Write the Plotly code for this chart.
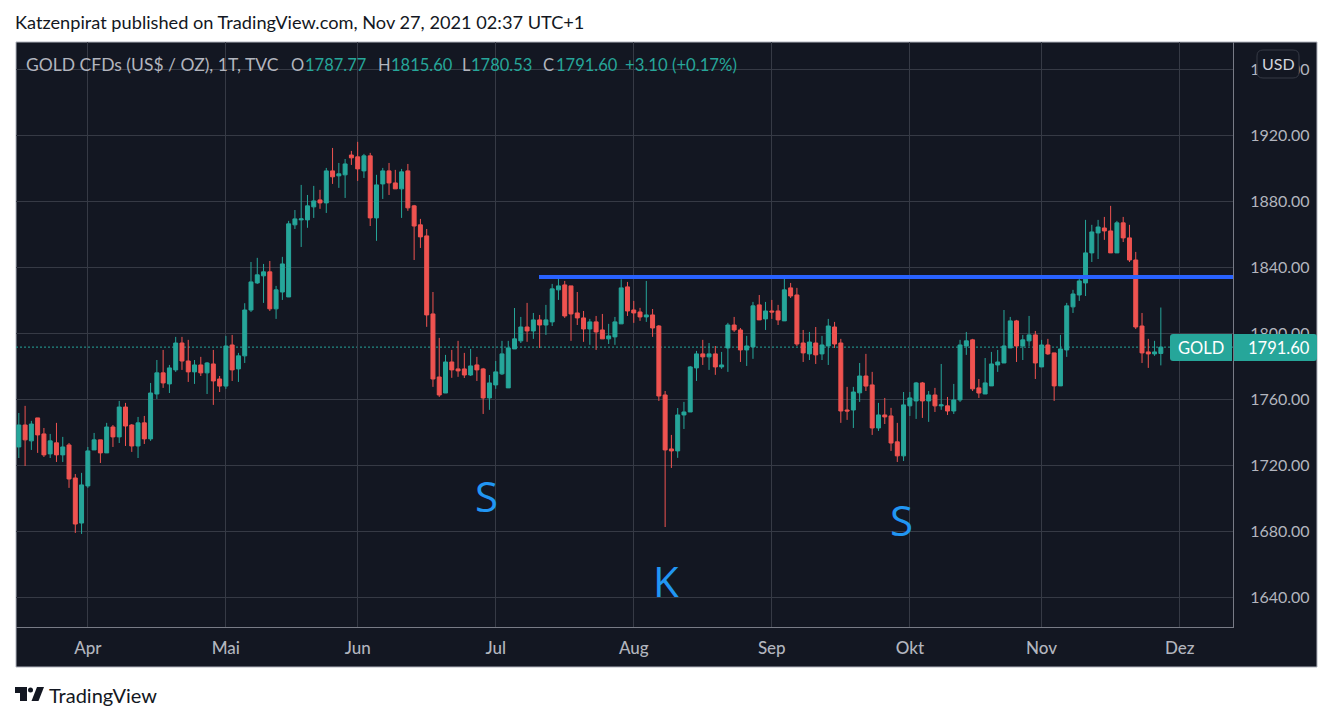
#!/usr/bin/env python3
# -*- coding: utf-8 -*-

import plotly.graph_objects as go

# daily candles, first one is index 0
opens = [
    1731.1, 1744.4, 1734.8, 1748.7, 1739.0, 1726.9, 1733.6, 1726.3, 1732.3, 1712.3,
    1685.0, 1707.5, 1729.3, 1735.4, 1727.5, 1743.2, 1737.2, 1755.3, 1744.4, 1731.7,
    1745.7, 1736.0, 1763.2, 1776.0, 1769.3, 1777.8, 1794.1, 1783.2, 1776.6, 1780.8,
    1776.0, 1781.4, 1772.3, 1768.0, 1792.9, 1778.4, 1786.3, 1814.1, 1830.5, 1834.8,
    1837.2, 1814.8, 1825.0, 1822.0, 1865.7, 1868.7, 1868.7, 1876.6, 1880.8, 1879.0,
    1898.4, 1895.4, 1896.0, 1908.0, 1906.9, 1898.4, 1907.5, 1869.9, 1890.5, 1898.4,
    1891.1, 1887.5, 1898.4, 1877.2, 1865.7, 1859.0, 1811.7, 1773.5, 1763.8, 1782.6,
    1778.4, 1778.4, 1774.7, 1780.8, 1778.4, 1760.8, 1768.7, 1775.4, 1766.9, 1790.5,
    1795.4, 1803.8, 1801.4, 1808.1, 1805.0, 1806.9, 1826.3, 1829.3, 1828.7, 1812.3,
    1809.3, 1802.6, 1806.9, 1802.0, 1796.6, 1797.8, 1805.7, 1828.1, 1814.1, 1812.9,
    1809.9, 1811.1, 1804.4, 1762.6, 1729.9, 1728.7, 1750.5, 1752.3, 1779.0, 1787.5,
    1785.7, 1787.5, 1779.6, 1791.1, 1805.0, 1802.0, 1789.9, 1791.7, 1817.2, 1808.7,
    1813.5, 1813.5, 1807.5, 1827.5, 1823.2, 1794.1, 1787.5, 1794.1, 1787.5, 1792.3,
    1803.8, 1794.1, 1753.5, 1753.5, 1763.9, 1774.1, 1768.7, 1742.6, 1750.5, 1749.9,
    1734.2, 1725.7, 1756.0, 1759.0, 1769.9, 1759.0, 1762.6, 1756.0, 1756.0, 1752.9,
    1759.6, 1792.3, 1796.0, 1766.9, 1763.2, 1768.1, 1780.8, 1782.0, 1791.1, 1807.5,
    1792.3, 1795.4, 1799.0, 1779.6, 1792.9, 1788.1, 1768.1, 1789.9, 1816.0, 1823.2,
    1830.5, 1848.7, 1860.8, 1863.8, 1862.0, 1848.7, 1866.9, 1857.8, 1844.4, 1804.4,
    1788.7, 1787.5, 1787.77,
]
highs = [
    1751.7, 1756.0, 1746.9, 1748.7, 1742.6, 1739.0, 1745.7, 1737.2, 1733.5, 1714.7,
    1715.4, 1731.1, 1739.6, 1735.4, 1745.7, 1744.4, 1759.0, 1757.8, 1745.0, 1749.3,
    1749.9, 1769.9, 1783.8, 1789.9, 1780.8, 1797.8, 1797.8, 1796.0, 1783.8, 1785.7,
    1782.6, 1789.9, 1774.1, 1798.4, 1799.0, 1788.1, 1818.2, 1843.2, 1845.7, 1842.0,
    1843.8, 1828.7, 1846.3, 1868.1, 1874.7, 1889.9, 1883.8, 1889.3, 1886.9, 1900.2,
    1912.3, 1903.2, 1905.6, 1910.5, 1916.0, 1908.7, 1909.3, 1896.0, 1900.2, 1903.2,
    1899.0, 1899.6, 1902.6, 1877.8, 1869.3, 1863.2, 1825.0, 1797.2, 1786.9, 1789.9,
    1795.4, 1788.1, 1790.5, 1785.7, 1779.0, 1774.7, 1783.2, 1795.4, 1795.4, 1815.3,
    1809.9, 1818.4, 1812.3, 1811.1, 1817.2, 1829.9, 1834.1, 1831.7, 1828.7, 1825.0,
    1813.5, 1808.7, 1810.5, 1811.7, 1805.7, 1809.9, 1832.7, 1831.1, 1819.6, 1815.4,
    1831.7, 1814.7, 1805.0, 1765.0, 1738.4, 1754.7, 1758.4, 1780.2, 1789.3, 1796.0,
    1794.1, 1792.3, 1788.7, 1806.3, 1809.9, 1803.2, 1798.4, 1819.0, 1823.2, 1819.0,
    1820.2, 1817.2, 1834.1, 1830.5, 1827.5, 1802.0, 1800.8, 1803.8, 1798.4, 1808.7,
    1806.9, 1796.6, 1767.5, 1767.5, 1782.0, 1787.5, 1776.6, 1757.8, 1760.8, 1754.8,
    1745.7, 1764.4, 1764.4, 1770.5, 1770.5, 1765.0, 1766.9, 1781.4, 1761.4, 1769.3,
    1796.0, 1800.8, 1796.6, 1772.3, 1785.0, 1788.7, 1789.9, 1814.1, 1809.9, 1808.1,
    1799.0, 1810.5, 1801.4, 1796.0, 1796.6, 1788.1, 1799.0, 1818.4, 1826.3, 1832.9,
    1868.7, 1865.7, 1868.7, 1870.5, 1877.2, 1868.1, 1870.5, 1865.7, 1849.3, 1812.3,
    1796.6, 1795.4, 1815.6,
]
lows = [
    1724.4, 1719.6, 1729.3, 1727.5, 1725.0, 1724.4, 1722.0, 1722.0, 1706.3, 1679.0,
    1678.4, 1706.3, 1729.3, 1721.4, 1727.5, 1731.1, 1733.5, 1731.7, 1728.1, 1724.4,
    1732.9, 1734.8, 1760.2, 1766.9, 1763.8, 1776.6, 1777.8, 1770.5, 1769.3, 1774.1,
    1763.2, 1756.6, 1764.4, 1766.3, 1771.1, 1770.5, 1782.0, 1812.9, 1829.9, 1818.4,
    1813.5, 1808.7, 1820.2, 1822.0, 1863.2, 1852.3, 1863.9, 1869.9, 1875.4, 1872.9,
    1890.5, 1888.1, 1882.0, 1902.0, 1892.3, 1894.1, 1865.0, 1856.0, 1881.4, 1883.8,
    1887.5, 1869.9, 1874.2, 1844.4, 1851.7, 1803.9, 1767.5, 1761.4, 1763.8, 1773.0,
    1773.6, 1772.9, 1774.1, 1771.1, 1751.1, 1753.6, 1766.3, 1774.7, 1766.9, 1790.5,
    1794.1, 1794.8, 1796.6, 1791.1, 1799.0, 1804.4, 1820.2, 1809.3, 1795.4, 1805.0,
    1794.8, 1793.0, 1789.9, 1796.6, 1793.5, 1793.0, 1805.7, 1810.5, 1806.3, 1807.5,
    1806.9, 1797.8, 1759.0, 1682.6, 1718.4, 1724.5, 1742.0, 1752.3, 1771.1, 1780.8,
    1777.8, 1774.8, 1778.4, 1776.6, 1800.8, 1782.6, 1780.2, 1784.5, 1808.1, 1802.0,
    1808.7, 1805.0, 1807.5, 1821.4, 1792.3, 1782.6, 1783.8, 1781.4, 1783.8, 1780.8,
    1791.1, 1745.7, 1747.5, 1742.6, 1758.4, 1765.0, 1738.4, 1740.8, 1745.0, 1728.7,
    1722.0, 1722.6, 1749.9, 1748.1, 1748.7, 1746.3, 1752.3, 1753.6, 1750.5, 1751.1,
    1758.4, 1786.9, 1765.0, 1760.8, 1763.2, 1768.1, 1776.6, 1782.0, 1791.1, 1782.6,
    1783.8, 1792.3, 1772.3, 1779.6, 1786.9, 1759.0, 1768.1, 1785.7, 1812.3, 1819.6,
    1822.6, 1843.2, 1845.0, 1856.6, 1848.7, 1848.7, 1855.3, 1843.2, 1802.6, 1782.0,
    1779.0, 1786.3, 1780.53,
]
closes = [
    1744.4, 1735.4, 1745.0, 1738.4, 1726.3, 1734.8, 1726.3, 1731.1, 1711.7, 1684.4,
    1708.1, 1728.7, 1735.4, 1727.5, 1743.2, 1737.2, 1755.3, 1743.8, 1731.7, 1745.7,
    1736.0, 1763.8, 1776.0, 1769.9, 1779.0, 1794.1, 1783.2, 1776.6, 1780.8, 1776.0,
    1782.0, 1771.1, 1768.0, 1792.3, 1777.8, 1786.3, 1814.1, 1831.1, 1835.4, 1837.2,
    1814.8, 1826.3, 1842.0, 1866.3, 1869.3, 1869.3, 1877.2, 1880.2, 1879.0, 1898.4,
    1894.8, 1896.6, 1902.6, 1906.3, 1899.6, 1907.5, 1869.9, 1889.9, 1898.4, 1891.1,
    1887.5, 1897.8, 1876.0, 1865.0, 1858.4, 1811.1, 1772.3, 1762.6, 1782.6, 1777.8,
    1777.2, 1774.7, 1780.2, 1777.8, 1760.8, 1769.9, 1776.6, 1787.5, 1791.1, 1796.6,
    1803.8, 1801.4, 1808.1, 1805.0, 1808.1, 1826.9, 1828.7, 1810.5, 1811.7, 1809.3,
    1802.6, 1806.9, 1800.8, 1796.6, 1798.4, 1806.9, 1827.5, 1813.5, 1812.3, 1809.9,
    1811.1, 1803.2, 1762.0, 1729.3, 1728.7, 1750.5, 1752.3, 1779.6, 1787.5, 1785.7,
    1787.5, 1779.6, 1780.8, 1805.0, 1802.0, 1789.9, 1792.3, 1816.6, 1808.1, 1813.5,
    1812.9, 1808.1, 1826.3, 1822.6, 1793.5, 1788.1, 1794.7, 1786.9, 1792.9, 1804.4,
    1793.5, 1752.9, 1752.9, 1764.4, 1774.1, 1768.0, 1742.6, 1750.5, 1749.3, 1733.5,
    1725.7, 1756.6, 1760.8, 1769.9, 1759.0, 1762.6, 1756.0, 1756.6, 1752.9, 1759.6,
    1792.9, 1795.4, 1766.3, 1763.8, 1769.9, 1781.4, 1782.6, 1792.3, 1807.5, 1792.3,
    1796.0, 1799.0, 1782.0, 1792.9, 1787.5, 1768.1, 1790.5, 1816.6, 1823.8, 1831.7,
    1848.7, 1861.4, 1864.4, 1862.0, 1848.7, 1866.9, 1857.8, 1844.4, 1803.8, 1788.1,
    1787.5, 1788.7, 1791.6,
]

month_idx = [11, 33, 54, 76, 98, 120, 142, 163, 185]
month_labels = ["Apr", "Mai", "Jun", "Jul", "Aug", "Sep", "Okt", "Nov", "Dez"]
price_ticks = [1640, 1680, 1720, 1760, 1800, 1840, 1880, 1920, 1960]
last_price = 1791.60
neckline = 1834.1
neckline_start = 82.9
pattern_labels = ["S", "K", "S"]
pattern_idx = [74.6, 103.1, 140.7]
pattern_price = [1701.4, 1650.0, 1687.0]

W, H = 1338, 721
LEFT, RIGHT, TOP, BOTTOM = 16, 1233, 42, 627
BG = "#131722"
GRID = "#363a45"
UP = "#26a69a"
DOWN = "#ef5350"
TXT = "#b2b5be"
FONT = "Lato"


# pixel position of the page -> paper coordinates
def px(x):
    return (x - LEFT) / (RIGHT - LEFT)


def py(y):
    return (BOTTOM - y) / (BOTTOM - TOP)


def poly(points):
    return "M " + " L ".join(f"{px(x)} {py(y)}" for x, y in points) + " Z"


def round_rect(x0, y0, x1, y1, rl, rr):
    return (
        f"M {px(x0 + rl)} {py(y0)} L {px(x1 - rr)} {py(y0)} "
        f"Q {px(x1)} {py(y0)} {px(x1)} {py(y0 + rr)} L {px(x1)} {py(y1 - rr)} "
        f"Q {px(x1)} {py(y1)} {px(x1 - rr)} {py(y1)} L {px(x0 + rl)} {py(y1)} "
        f"Q {px(x0)} {py(y1)} {px(x0)} {py(y1 - rl)} L {px(x0)} {py(y0 + rl)} "
        f"Q {px(x0)} {py(y0)} {px(x0 + rl)} {py(y0)} Z"
    )


def paper_text(x, y, text, size, color, anchor="left", font=FONT):
    return dict(
        xref="paper", yref="paper", x=px(x), y=py(y), text=text, showarrow=False,
        xanchor=anchor, yanchor="middle", borderpad=0, borderwidth=0,
        font=dict(family=font, size=size, color=color),
    )


fig = go.Figure(
    go.Candlestick(
        x=list(range(len(opens))),
        open=opens,
        high=highs,
        low=lows,
        close=closes,
        increasing=dict(line=dict(color=UP, width=1), fillcolor=UP),
        decreasing=dict(line=dict(color=DOWN, width=1), fillcolor=DOWN),
        whiskerwidth=0,
        hoverinfo="skip",
        showlegend=False,
    )
)
# boxgap is only read when a box trace exists, so keep one outside the visible range
fig.add_trace(go.Box(x=[-50], y=[last_price], hoverinfo="skip", showlegend=False))

shapes = [
    # chart frame with the two axis panels
    dict(type="rect", xref="paper", yref="paper", x0=px(16), x1=px(1317), y0=py(42), y1=py(667),
         fillcolor=BG, line=dict(color="#b2b5be", width=1), layer="below"),
    dict(type="line", xref="paper", yref="y", x0=0, x1=1, y0=last_price, y1=last_price,
         line=dict(color=UP, width=1, dash="2px,2px"), layer="between"),
    dict(type="line", xref="x", yref="y", x0=neckline_start, x1=193.5, y0=neckline, y1=neckline,
         line=dict(color="#2962ff", width=4)),
    # USD button
    dict(type="path", xref="paper", yref="paper", path=round_rect(1257, 50, 1299, 78, 6, 6),
         fillcolor=BG, line=dict(color=GRID, width=1)),
    # last price tag
    dict(type="path", xref="paper", yref="paper", path=round_rect(1170, 334, 1232, 361, 3, 0),
         fillcolor=UP, line=dict(width=0)),
    dict(type="path", xref="paper", yref="paper", path=round_rect(1234, 334, 1317, 361, 0, 3),
         fillcolor=UP, line=dict(width=0)),
    # TradingView logo
    dict(type="path", xref="paper", yref="paper",
         path=poly([(15, 687), (27, 687), (27, 701), (20, 701), (20, 693), (15, 693)]),
         fillcolor="#131722", line=dict(width=0)),
    dict(type="circle", xref="paper", yref="paper", x0=px(28), x1=px(33), y0=py(687.5), y1=py(692.5),
         fillcolor="#131722", line=dict(width=0)),
    dict(type="path", xref="paper", yref="paper",
         path=poly([(37, 687), (44, 687), (38.5, 701), (31.5, 701)]),
         fillcolor="#131722", line=dict(width=0)),
]

annotations = [
    paper_text(15, 22, "Katzenpirat published on TradingView.com, Nov 27, 2021 02:37 UTC+1", 18.2, "#131722"),
    paper_text(26, 65, "GOLD CFDs (US$ / OZ), 1T, TVC", 17.5, TXT),
    paper_text(291, 65, "O", 16.5, TXT),
    paper_text(305, 65, "1787.77", 16.5, UP),
    paper_text(378, 65, "H", 16.5, TXT),
    paper_text(391, 65, "1815.60", 16.5, UP),
    paper_text(462, 65, "L", 16.5, TXT),
    paper_text(471, 65, "1780.53", 16.5, UP),
    paper_text(543, 65, "C", 16.5, TXT),
    paper_text(556, 65, "1791.60", 16.5, UP),
    paper_text(625, 65, "+3.10 (+0.17%)", 16.7, UP),
    paper_text(1278, 64, "USD", 16, "#d1d4dc", "center"),
    paper_text(1201, 348, "GOLD", 16.5, "#ffffff", "center"),
    paper_text(1310, 348, f"{last_price:.2f}", 16.5, "#ffffff", "right"),
    paper_text(49, 695, "TradingView", 20, "#131722"),
]
for label, idx, price in zip(pattern_labels, pattern_idx, pattern_price):
    annotations.append(
        dict(x=idx, y=price, text=label, showarrow=False, font=dict(family="Open Sans", size=42, color="#2196f3"))
    )

fig.update_layout(
    width=W,
    height=H,
    margin=dict(l=LEFT, r=W - RIGHT, t=TOP, b=H - BOTTOM, pad=0),
    paper_bgcolor="#ffffff",
    plot_bgcolor=BG,
    showlegend=False,
    boxgap=0.1,
    shapes=shapes,
    annotations=annotations,
    xaxis=dict(
        range=[-0.45, 193.5],
        rangeslider=dict(visible=False),
        tickmode="array",
        tickvals=month_idx,
        ticktext=month_labels,
        showgrid=True,
        gridcolor=GRID,
        gridwidth=1,
        zeroline=False,
        showline=True,
        linecolor="#787b86",
        linewidth=1,
        ticks="outside",
        ticklen=6,
        tickcolor="rgba(0,0,0,0)",
        tickfont=dict(family=FONT, size=17, color=TXT, weight=500),
    ),
    yaxis=dict(
        range=[1622.0, 1976.5],
        side="right",
        tickmode="array",
        tickvals=price_ticks,
        ticktext=[f"{p:.2f}" for p in price_ticks],
        showgrid=True,
        gridcolor=GRID,
        gridwidth=1,
        zeroline=False,
        showline=True,
        linecolor="#787b86",
        linewidth=1,
        ticks="outside",
        ticklen=13,
        tickcolor="rgba(0,0,0,0)",
        tickfont=dict(family=FONT, size=16, color=TXT),
    ),
)

fig.write_html("out.html", config={"displayModeBar": False}, post_script="document.body.style.margin='0';")
